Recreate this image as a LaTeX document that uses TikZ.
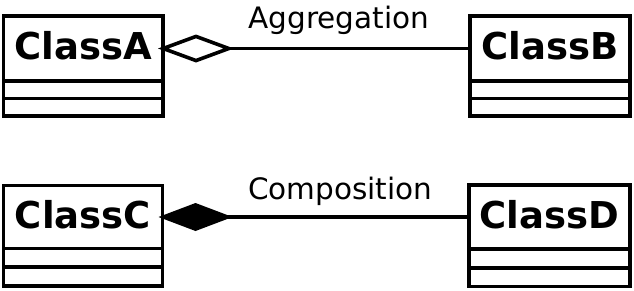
\documentclass[tikz,border=0pt]{standalone}
\usepackage{fontspec}
\setmainfont{DejaVu Sans}
\usetikzlibrary{arrows.meta}
\begin{document}
\begin{tikzpicture}[x=1pt,y=-1pt,
  every node/.style={outer sep=0pt, inner sep=0pt},
  namebox/.style={draw, line width=3.9pt, text depth=6pt,
    font=\fontsize{37}{44}\selectfont\bfseries},
  compbox/.style={draw, line width=3.9pt, anchor=north},
  conn/.style={draw, line width=3.6pt},
  lbl/.style={anchor=base, font=\fontsize{29.5}{35}\selectfont}]
\useasboundingbox (0,0) rectangle (634,290);
% ClassA
\node[namebox, minimum width=159.5pt, minimum height=65pt] (A) at (83.25,48.5) {ClassA};
\node[compbox, minimum width=159.5pt, minimum height=17.5pt] (A1) at (A.south) {};
\node[compbox, minimum width=159.5pt, minimum height=17.5pt] (A2) at (A1.south) {};
% ClassB
\node[namebox, minimum width=160pt, minimum height=65pt] (B) at (550,48.5) {ClassB};
\node[compbox, minimum width=160pt, minimum height=17.5pt] (B1) at (B.south) {};
\node[compbox, minimum width=160pt, minimum height=17.5pt] (B2) at (B1.south) {};
% ClassC
\node[namebox, minimum width=159pt, minimum height=63pt] (C) at (83,217) {ClassC};
\node[compbox, minimum width=159pt, minimum height=18.75pt] (C1) at (C.south) {};
\node[compbox, minimum width=159pt, minimum height=18.75pt] (C2) at (C1.south) {};
% ClassD
\node[namebox, minimum width=161pt, minimum height=64pt] (D) at (549.5,217) {ClassD};
\node[compbox, minimum width=161pt, minimum height=18.75pt] (D1) at (D.south) {};
\node[compbox, minimum width=161pt, minimum height=18.75pt] (D2) at (D1.south) {};
% connectors
\draw[conn, {Diamond[open,length=76pt,width=28pt]}-] ([xshift=-5pt]A.east) -- (B.west)
  node[lbl, pos=0.58, yshift=19.7pt] {Aggregation};
\draw[conn, {Diamond[length=74pt,width=28pt]}-] ([xshift=-4pt]C.east) -- (D.west)
  node[lbl, pos=0.585, yshift=17.7pt] {Composition};
\end{tikzpicture}
\end{document}
